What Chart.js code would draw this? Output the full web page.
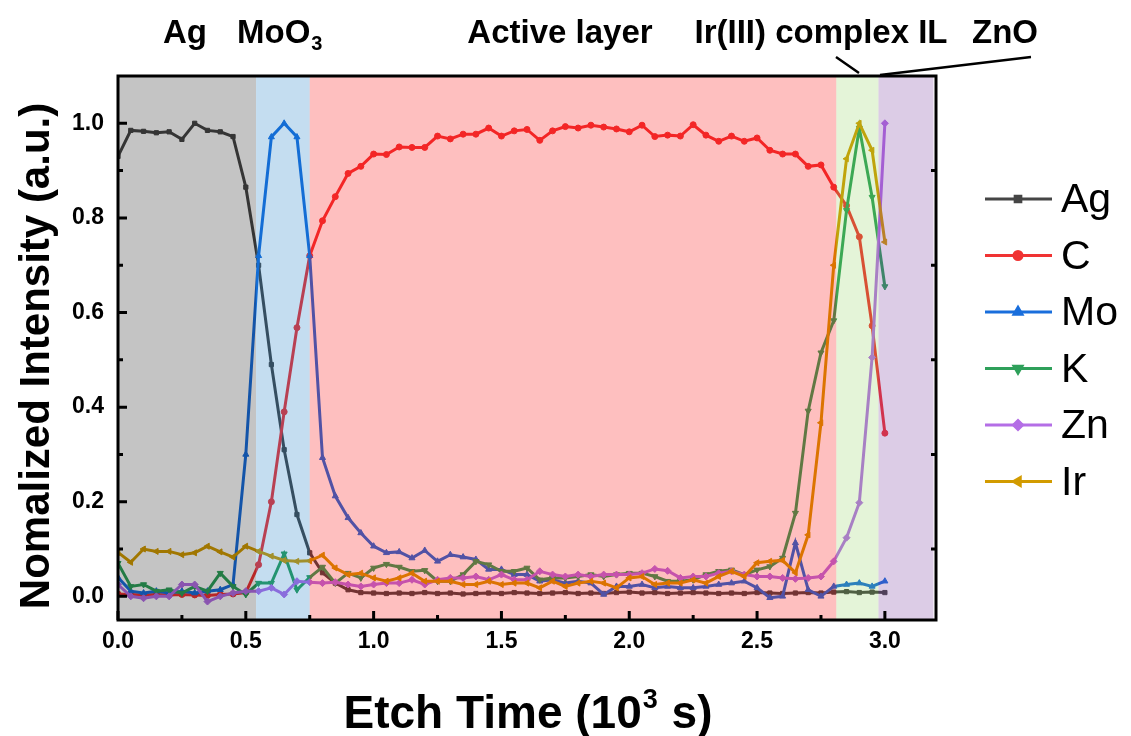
<!DOCTYPE html>
<html>
<head>
<meta charset="utf-8">
<script src="https://cdn.jsdelivr.net/npm/chart.js@4.4.1/dist/chart.umd.min.js"></script>
<style>
  body { margin: 0; background: #fff; }
  #wrap { width: 1131px; height: 736px; }
</style>
</head>
<body>
<div id="wrap"><canvas id="depthChart" width="1131" height="736"></canvas></div>
<script>
// XPS depth profile - etch time in 10^3 s, intensities normalized

const etchTime = [
  0.00, 0.05, 0.10, 0.15, 0.20, 0.25, 0.30, 0.35, 0.40, 0.45,
  0.50, 0.55, 0.60, 0.65, 0.70, 0.75, 0.80, 0.85, 0.90, 0.95,
  1.00, 1.05, 1.10, 1.15, 1.20, 1.25, 1.30, 1.35, 1.40, 1.45,
  1.50, 1.55, 1.60, 1.65, 1.70, 1.75, 1.80, 1.85, 1.90, 1.95,
  2.00, 2.05, 2.10, 2.15, 2.20, 2.25, 2.30, 2.35, 2.40, 2.45,
  2.50, 2.55, 2.60, 2.65, 2.70, 2.75, 2.80, 2.85, 2.90, 2.95,
  3.00
];

const agData = [
  0.930, 0.985, 0.983, 0.980, 0.982, 0.966, 1.000, 0.985, 0.982, 0.972,
  0.865, 0.700, 0.490, 0.310, 0.173, 0.092, 0.050, 0.028, 0.014, 0.008,
  0.007, 0.006, 0.007, 0.006, 0.008, 0.006, 0.007, 0.005, 0.006, 0.007,
  0.006, 0.008, 0.007, 0.006, 0.007, 0.008, 0.006, 0.007, 0.006, 0.008,
  0.009, 0.007, 0.008, 0.006, 0.007, 0.008, 0.007, 0.006, 0.007, 0.006,
  0.008, 0.007, 0.006, 0.007, 0.008, 0.007, 0.009, 0.010, 0.008, 0.009,
  0.008
];

const cData = [
  0.005, 0.004, 0.003, 0.004, 0.003, 0.004, 0.003, 0.002, 0.004, 0.005,
  0.008, 0.067, 0.200, 0.390, 0.568, 0.720, 0.794, 0.845, 0.894, 0.909,
  0.935, 0.934, 0.950, 0.949, 0.949, 0.973, 0.967, 0.977, 0.977, 0.990,
  0.973, 0.984, 0.987, 0.964, 0.984, 0.993, 0.990, 0.996, 0.992, 0.988,
  0.982, 0.996, 0.972, 0.975, 0.973, 0.997, 0.975, 0.962, 0.973, 0.962,
  0.969, 0.943, 0.935, 0.935, 0.909, 0.912, 0.865, 0.826, 0.760, 0.572,
  0.345
];

const moData = [
  0.040, 0.011, 0.007, 0.011, 0.007, 0.011, 0.007, 0.011, 0.014, 0.025,
  0.300, 0.720, 0.971, 1.000, 0.971, 0.720, 0.293, 0.212, 0.166, 0.134,
  0.106, 0.092, 0.094, 0.081, 0.097, 0.074, 0.088, 0.083, 0.078, 0.057,
  0.057, 0.046, 0.046, 0.032, 0.035, 0.028, 0.032, 0.028, 0.004, 0.021,
  0.021, 0.025, 0.018, 0.021, 0.018, 0.018, 0.021, 0.025, 0.028, 0.032,
  0.018, -0.003, 0.000, 0.113, 0.014, 0.000, 0.021, 0.025, 0.028, 0.021,
  0.032
];

const kData = [
  0.070, 0.021, 0.025, 0.011, 0.014, 0.007, 0.021, 0.011, 0.049, 0.021,
  0.004, 0.028, 0.028, 0.090, 0.014, 0.040, 0.062, 0.028, 0.049, 0.039,
  0.060, 0.068, 0.062, 0.053, 0.055, 0.032, 0.032, 0.046, 0.074, 0.067,
  0.053, 0.053, 0.060, 0.035, 0.039, 0.039, 0.042, 0.046, 0.042, 0.046,
  0.049, 0.049, 0.042, 0.032, 0.032, 0.035, 0.046, 0.053, 0.056, 0.046,
  0.056, 0.063, 0.081, 0.176, 0.392, 0.515, 0.583, 0.816, 0.990, 0.844,
  0.655
];

const znData = [
  0.025, 0.000, -0.004, 0.000, 0.000, 0.025, 0.025, -0.011, 0.000, 0.007,
  0.011, 0.011, 0.018, 0.004, 0.032, 0.030, 0.028, 0.030, 0.025, 0.021,
  0.025, 0.028, 0.028, 0.035, 0.025, 0.035, 0.039, 0.039, 0.042, 0.035,
  0.046, 0.035, 0.035, 0.053, 0.046, 0.042, 0.046, 0.042, 0.046, 0.046,
  0.046, 0.049, 0.058, 0.054, 0.039, 0.042, 0.042, 0.049, 0.053, 0.046,
  0.042, 0.042, 0.039, 0.037, 0.039, 0.042, 0.074, 0.124, 0.198, 0.505,
  1.000
];

const irData = [
  0.093, 0.072, 0.100, 0.095, 0.095, 0.088, 0.092, 0.106, 0.094, 0.083,
  0.106, 0.095, 0.085, 0.076, 0.074, 0.075, 0.087, 0.060, 0.046, 0.049,
  0.039, 0.032, 0.039, 0.049, 0.032, 0.032, 0.032, 0.025, 0.025, 0.032,
  0.025, 0.028, 0.028, 0.018, 0.032, 0.021, 0.028, 0.032, 0.028, 0.018,
  0.039, 0.042, 0.025, 0.028, 0.028, 0.035, 0.028, 0.042, 0.053, 0.042,
  0.071, 0.074, 0.076, 0.050, 0.130, 0.367, 0.700, 0.925, 1.000, 0.943,
  0.749
];

const xTickValues = [0, 0.5, 1.0, 1.5, 2.0, 2.5, 3.0];
const xMinorTicks = [0.25, 0.75, 1.25, 1.75, 2.25, 2.75];
const yTickValues = [0, 0.2, 0.4, 0.6, 0.8, 1.0];
const yMinorTicks = [0.1, 0.3, 0.5, 0.7, 0.9];

// layer regions along the etch time axis
const layerStart = [0, 0.54, 0.75, 2.81, 2.975];
const layerEnd = [0.54, 0.75, 2.81, 2.975, 3.19];
const layerColors = [
  'rgba(0, 0, 0, 0.23)',
  'rgba(0, 110, 190, 0.23)',
  'rgba(250, 0, 0, 0.25)',
  'rgba(120, 200, 60, 0.2)',
  'rgba(116, 52, 156, 0.25)'
];

const FONT = "'Liberation Sans', Arial, sans-serif";

function series(label, values, color, pointStyle, rotation, radius) {
    return {
        label: label,
        data: etchTime.map((t, i) => ({ x: t, y: values[i] })),
        borderColor: color,
        backgroundColor: color,
        borderWidth: 3,
        pointStyle: pointStyle,
        rotation: rotation,
        pointRadius: radius,
        pointBorderWidth: 1,
        tension: 0
    };
}

const datasets = [
    series('Ag', agData, '#454545', 'rect', 0, 3),
    series('C', cData, '#f03333', 'circle', 0, 3),
    series('Mo', moData, '#196edc', 'triangle', 0, 3.5),
    series('K', kData, '#2ea05a', 'triangle', 180, 3.5),
    series('Zn', znData, '#b46ee6', 'rectRot', 0, 3.5),
    series('Ir', irData, '#d29b00', 'triangle', -90, 3.5)
];
// later series on top
datasets.forEach((d, i) => { d.order = datasets.length - i; });

function drawPointMarker(ctx, ds, x, y) {
    Chart.helpers.drawPoint(ctx, {
        pointStyle: ds.pointStyle,
        rotation: ds.rotation,
        radius: ds.pointRadius + 1,
        borderWidth: 1
    }, x, y);
}

const overlayPlugin = {
    id: 'overlay',
    afterDatasetsDraw(chart) {
        const { ctx, chartArea: a, scales: { x, y } } = chart;
        ctx.save();

        // coloured layer bands over the curves
        for (let i = 0; i < layerStart.length; i++) {
            const x0 = x.getPixelForValue(layerStart[i]);
            const x1 = x.getPixelForValue(layerEnd[i]);
            ctx.fillStyle = layerColors[i];
            ctx.fillRect(x0, a.top, x1 - x0, a.bottom - a.top);
        }

        // frame
        ctx.strokeStyle = '#000';
        ctx.lineWidth = 3;
        ctx.strokeRect(a.left, a.top, a.right - a.left, a.bottom - a.top);

        // inward tick marks
        ctx.lineWidth = 3;
        ctx.beginPath();
        xTickValues.forEach(v => {
            const px = x.getPixelForValue(v);
            ctx.moveTo(px, a.bottom);
            ctx.lineTo(px, a.bottom - 9);
        });
        xMinorTicks.forEach(v => {
            const px = x.getPixelForValue(v);
            ctx.moveTo(px, a.bottom);
            ctx.lineTo(px, a.bottom - 5);
        });
        yTickValues.forEach(v => {
            const py = y.getPixelForValue(v);
            ctx.moveTo(a.left, py);
            ctx.lineTo(a.left + 9, py);
        });
        yMinorTicks.forEach(v => {
            const py = y.getPixelForValue(v);
            ctx.moveTo(a.left, py);
            ctx.lineTo(a.left + 5, py);
            ctx.moveTo(a.right, py);
            ctx.lineTo(a.right - 5, py);
        });
        ctx.stroke();
        ctx.restore();
    },
    afterDraw(chart) {
        const { ctx } = chart;
        ctx.save();
        ctx.fillStyle = '#000';

        // y axis title
        ctx.font = 'bold 42px ' + FONT;
        ctx.textAlign = 'center';
        ctx.textBaseline = 'middle';
        ctx.save();
        ctx.translate(37, 356);
        ctx.rotate(-Math.PI / 2);
        ctx.fillText('Nomalized Intensity (a.u.)', 0, 0);
        ctx.restore();

        // x title with superscript
        const partA = 'Etch Time (10', partB = '3', partC = ' s)';
        ctx.font = 'bold 46px ' + FONT;
        const wA = ctx.measureText(partA).width;
        const wC = ctx.measureText(partC).width;
        ctx.font = 'bold 27px ' + FONT;
        const wB = ctx.measureText(partB).width;
        const sx = 527 - (wA + wB + wC) / 2;
        const baseY = 728;
        ctx.textAlign = 'left';
        ctx.textBaseline = 'alphabetic';
        ctx.font = 'bold 46px ' + FONT;
        ctx.fillText(partA, sx, baseY);
        ctx.font = 'bold 27px ' + FONT;
        ctx.fillText(partB, sx + wA + 1, baseY - 20);
        ctx.font = 'bold 46px ' + FONT;
        ctx.fillText(partC, sx + wA + wB + 2, baseY);

        // layer names above the plot
        ctx.font = 'bold 33px ' + FONT;
        ctx.textAlign = 'center';
        ctx.fillText('Ag', 185, 43);
        ctx.fillText('Active layer', 560, 43);
        ctx.fillText('Ir(III) complex IL', 821, 43);
        ctx.fillText('ZnO', 1005, 43);
        ctx.textAlign = 'left';
        const wMo = ctx.measureText('MoO').width;
        ctx.fillText('MoO', 237, 43);
        ctx.font = 'bold 20px ' + FONT;
        ctx.fillText('3', 237 + wMo + 1, 50);

        // leader lines to the thin layers
        ctx.strokeStyle = '#000';
        ctx.lineWidth = 2.5;
        ctx.beginPath();
        ctx.moveTo(836, 57);
        ctx.lineTo(859, 73);
        ctx.moveTo(1031, 57);
        ctx.lineTo(880, 75);
        ctx.stroke();

        // legend
        ctx.font = '41px ' + FONT;
        ctx.textBaseline = 'middle';
        chart.data.datasets.forEach((ds, i) => {
            const ly = 199 + i * 56.5;
            ctx.strokeStyle = ds.borderColor;
            ctx.fillStyle = ds.borderColor;
            ctx.lineWidth = 3;
            ctx.beginPath();
            ctx.moveTo(985, ly);
            ctx.lineTo(1052, ly);
            ctx.stroke();
            drawPointMarker(ctx, ds, 1018, ly);
            ctx.fillStyle = '#000';
            ctx.fillText(ds.label, 1061, ly + 2);
        });
        ctx.restore();
    }
};

const chart = new Chart(document.getElementById('depthChart'), {
    type: 'line',
    data: { datasets: datasets },
    options: {
        responsive: false,
        animation: false,
        layout: { padding: { left: 58, top: 76, right: 195, bottom: 76 } },
        plugins: {
            legend: { display: false },
            tooltip: { enabled: false }
        },
        scales: {
            x: {
                type: 'linear',
                min: 0,
                max: 3.2,
                grid: { display: false },
                border: { display: false },
                afterFit: s => { s.height = 40; },
                afterBuildTicks: s => { s.ticks = xTickValues.map(v => ({ value: v })); },
                ticks: {
                    color: '#000',
                    padding: 0,
                    maxRotation: 0,
                    font: { family: FONT, size: 23, weight: 'bold' },
                    callback: v => v.toFixed(1)
                }
            },
            y: {
                type: 'linear',
                min: -0.05,
                max: 1.1,
                grid: { display: false },
                border: { display: false },
                afterFit: s => { s.width = 60; },
                afterBuildTicks: s => { s.ticks = yTickValues.map(v => ({ value: v })); },
                ticks: {
                    color: '#000',
                    padding: 6,
                    font: { family: FONT, size: 23, weight: 'bold' },
                    callback: v => v.toFixed(1)
                }
            }
        }
    },
    plugins: [overlayPlugin]
});
</script>
</body>
</html>
